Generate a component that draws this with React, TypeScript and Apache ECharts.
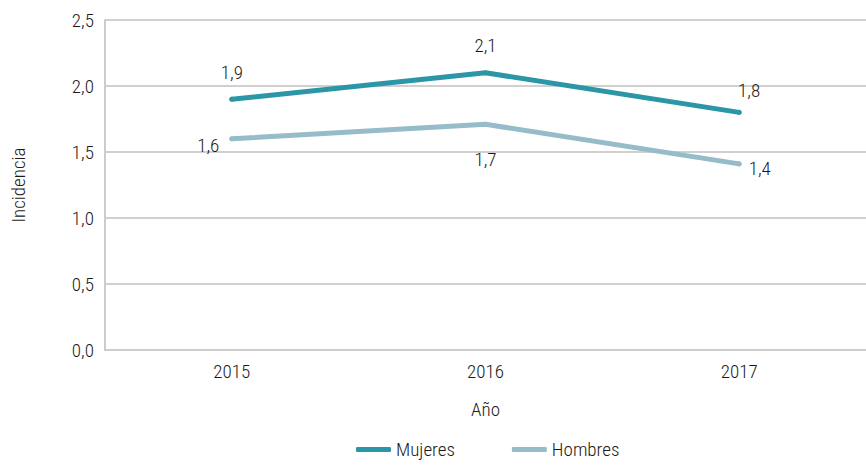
import React, { useEffect, useRef } from "react";
import * as echarts from "echarts";

const years = ["2015", "2016", "2017"];
const mujeres = [1.9, 2.1, 1.8];
const hombres = [1.6, 1.71, 1.41];
const mujeresLabels = ["1,9", "2,1", "1,8"];
const hombresLabels = ["1,6", "1,7", "1,4"];

const FONT = "'Roboto Condensed', 'DejaVu Sans Condensed', sans-serif";
const FS = 19;
const FW = 300;
const TXT = "#1a1a1a";

export default function App() {
  const ref = useRef<HTMLDivElement>(null);
  useEffect(() => {
    if (!ref.current) return;
    const chart = echarts.init(ref.current, undefined, { renderer: "svg" });
    const labelBase = { show: true, color: TXT, fontSize: FS, fontWeight: FW, fontFamily: FONT };
    const mPos: any[] = [
      { position: "top", distance: 15 },
      { position: "top", distance: 15 },
      { position: "top", distance: 10, offset: [10, 0] },
    ];
    const hPos: any[] = [
      { position: "left", distance: 10, offset: [0, 7] },
      { position: "bottom", distance: 23 },
      { position: "right", distance: 7, offset: [0, 5] },
    ];
    chart.setOption({
      animation: false,
      textStyle: { fontFamily: FONT, fontWeight: FW },
      grid: { left: 105, right: 0, top: 20, bottom: 115 },
      legend: {
        top: 440,
        left: 356,
        itemWidth: 35,
        itemHeight: 5,
        itemGap: 57,
        padding: 0,
        textStyle: { fontSize: FS, color: TXT, fontWeight: FW, fontFamily: FONT },
        data: [
          { name: "Mujeres", icon: "roundRect" },
          { name: "Hombres", icon: "roundRect" },
        ],
      },
      xAxis: {
        type: "category",
        data: years,
        name: "Año",
        nameLocation: "middle",
        nameGap: 50,
        nameTextStyle: { fontSize: FS, color: TXT, fontWeight: FW, fontFamily: FONT },
        axisLine: { lineStyle: { color: "#cccccc", width: 2 } },
        axisTick: { show: false },
        axisLabel: { fontSize: FS, color: TXT, fontWeight: FW, margin: 12, fontFamily: FONT },
      },
      yAxis: {
        type: "value",
        min: 0,
        max: 2.5,
        interval: 0.5,
        name: "Incidencia",
        nameLocation: "middle",
        nameGap: 77,
        nameTextStyle: { fontSize: FS, color: TXT, fontWeight: FW, fontFamily: FONT },
        axisLine: { show: true, lineStyle: { color: "#cccccc", width: 2 } },
        axisTick: { show: false },
        splitLine: { lineStyle: { color: "#d0d0d0", width: 2 } },
        axisLabel: {
          fontSize: FS,
          color: TXT,
          fontWeight: FW,
          margin: 11,
          fontFamily: FONT,
          formatter: (v: number) => v.toFixed(1).replace(".", ","),
        },
      },
      series: [
        {
          name: "Mujeres",
          type: "line",
          data: mujeres.map((v, i) => ({
            value: v,
            label: { ...labelBase, ...mPos[i], formatter: mujeresLabels[i] },
          })),
          color: "#2a96a6",
          lineStyle: { width: 5, color: "#2a96a6", cap: "round" },
          symbol: "circle",
          symbolSize: 5,
          showSymbol: true,
          itemStyle: { color: "#2a96a6" },
        },
        {
          name: "Hombres",
          type: "line",
          data: hombres.map((v, i) => ({
            value: v,
            label: { ...labelBase, ...hPos[i], formatter: hombresLabels[i] },
          })),
          color: "#95bcc8",
          lineStyle: { width: 5, color: "#95bcc8", cap: "round" },
          symbol: "circle",
          symbolSize: 5,
          showSymbol: true,
          itemStyle: { color: "#95bcc8" },
        },
      ],
    });
    return () => chart.dispose();
  }, []);
  return (
    <div
      ref={ref}
      style={{ position: "fixed", left: 0, top: 0, width: 866, height: 465, background: "#fff" }}
    />
  );
}
